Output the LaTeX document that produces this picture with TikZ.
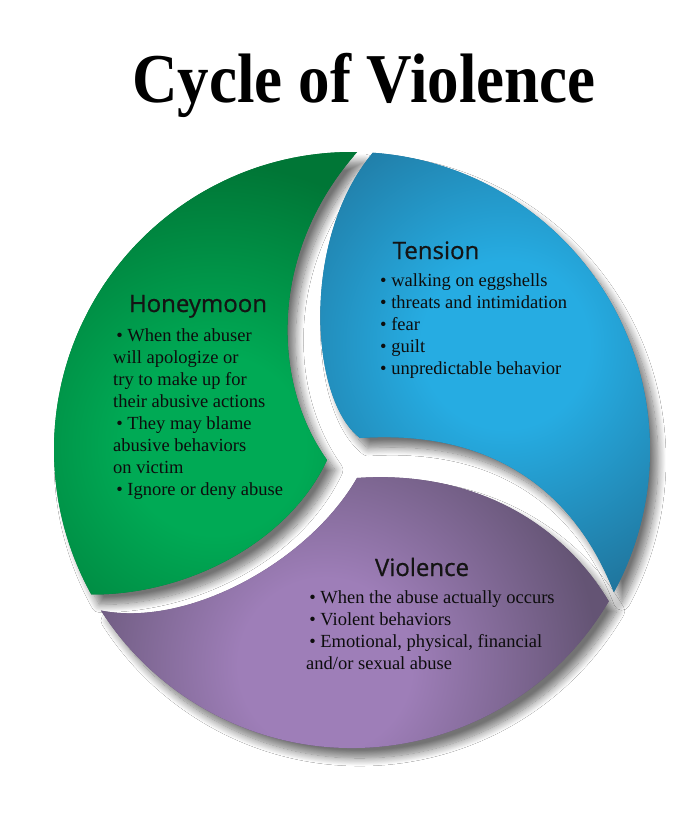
\documentclass[tikz,border=0pt]{standalone}
\usepackage{fontspec}
\setmainfont{Liberation Serif}
\newfontfamily\headfont{Open Sans}[FakeBold=0.7]
\usepackage{xcolor}
\usepackage{tikz}
\usetikzlibrary{shadows.blur,calc}
\definecolor{greenlight}{RGB}{0,170,85}
\definecolor{greendark}{RGB}{0,118,54}
\definecolor{bluelight}{RGB}{38,172,226}
\definecolor{bluedark}{RGB}{32,118,158}
\definecolor{purplelight}{RGB}{158,126,184}
\definecolor{purpledark}{RGB}{100,84,116}
\pgfdeclareradialshading{greenglow}{\pgfpointorigin}{color(0bp)=(greenlight); color(7bp)=(greenlight); color(22bp)=(greendark); color(50bp)=(greendark)}
\pgfdeclareradialshading{blueglow}{\pgfpointorigin}{color(0bp)=(bluelight); color(7bp)=(bluelight); color(22bp)=(bluedark); color(50bp)=(bluedark)}
\pgfdeclareradialshading{purpleglow}{\pgfpointorigin}{color(0bp)=(purplelight); color(7bp)=(purplelight); color(22bp)=(purpledark); color(50bp)=(purpledark)}
\tikzstyle{segment} = [blur shadow={shadow xshift=8pt, shadow yshift=-10pt, shadow blur radius=8pt, shadow blur steps=14, shadow opacity=55}]
\tikzstyle{title} = [font=\bfseries\fontsize{70}{80}\selectfont, inner sep=0pt, anchor=base]
\tikzstyle{head} = [font=\headfont\fontsize{24}{28}\selectfont, text=black!92, inner sep=0pt, anchor=base]
\tikzstyle{items} = [font=\fontsize{18.5}{22}\selectfont, text=black!95, align=left, inner sep=0pt, anchor=north west]

\begin{document}
\begin{tikzpicture}[x=1pt, y=-1pt]
	\fill[white] (0,0) rectangle (700,825);
	\useasboundingbox (0,0) rectangle (700,825);
	\coordinate (o) at (352,450);
	% honeymoon
	\path[segment, fill=greendark, path picture={\shade[shading=greenglow] (215,445) circle (320);}]
		($(o)+(271:298)$) arc[start angle=271, end angle=151, radius=298]
		.. controls (190,595) and (290,540) .. (327,460)
		.. controls (270,380) and (270,250) .. cycle;
	% tension
	\path[segment, fill=bluedark, path picture={\shade[shading=blueglow] (505,345) circle (300);}]
		($(o)+(274:298)$) arc[start angle=274, end angle=388.5, radius=298]
		.. controls (570,480) and (480,430) .. (360,438)
		.. controls (310,400) and (300,240) .. cycle;
	% violence
	\path[segment, fill=purpledark, path picture={\shade[shading=purpleglow] (325,665) circle (310);}]
		($(o)+(30.5:298)$) arc[start angle=30.5, end angle=147.4, radius=298]
		.. controls (190,628) and (310,560) .. (357,478)
		.. controls (470,470) and (560,520) .. cycle;

	\node[title] (t) at (364,102) {\scalebox{0.9}[1]{Cycle of Violence}};

	\node[head] (a) at (436,259) {Tension};
	\node[items] (a1) at (380,273) {\textbullet\ walking on eggshells\\ \textbullet\ threats and intimidation\\ \textbullet\ fear\\ \textbullet\ guilt\\ \textbullet\ unpredictable behavior};

	\node[head] (b) at (198,312) {Honeymoon};
	\node[items] (b1) at (113,328) {\,\textbullet\ When the abuser\\ will apologize or\\ try to make up for\\ their abusive actions\\ \,\textbullet\ They may blame\\ abusive behaviors\\ on victim\\ \,\textbullet\ Ignore or deny abuse};

	\node[head] (c) at (422,576) {Violence};
	\node[items] (c1) at (306,590) {\,\textbullet\ When the abuse actually occurs\\ \,\textbullet\ Violent behaviors\\ \,\textbullet\ Emotional, physical, financial\\ and/or sexual abuse};
\end{tikzpicture}
\end{document}
